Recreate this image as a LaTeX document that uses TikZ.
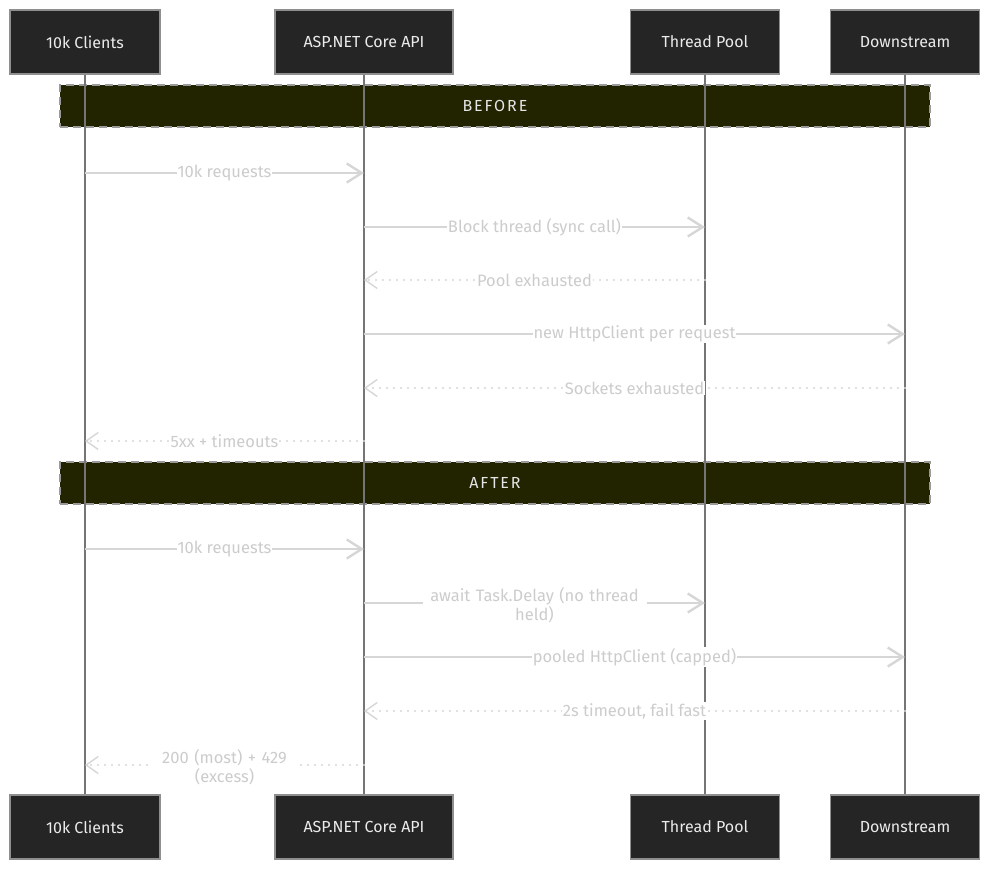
\documentclass[tikz,border=0pt]{standalone}
\usepackage{fontspec}
\setmainfont{Fira Sans}
\usetikzlibrary{arrows.meta}
\definecolor{boxfill}{HTML}{252525}
\definecolor{boxline}{HTML}{8F8F8F}
\definecolor{bandfill}{HTML}{222400}
\definecolor{bandline}{HTML}{9A9A9A}
\definecolor{msgcol}{HTML}{D6D6D6}
\definecolor{lblcol}{HTML}{CCCCCC}
\definecolor{lifecol}{HTML}{757575}
\tikzset{
  actor/.style={draw=boxline, line width=1.8pt, fill=boxfill, text=white!92!black,
    minimum height=64pt, inner sep=0pt, font=\fontsize{16}{18}\selectfont},
  band/.style={draw=bandline, dashed, dash pattern=on 8pt off 5pt, line width=1.6pt, fill=bandfill,
    minimum width=870pt, minimum height=42pt, inner sep=0pt, text=white!90!black,
    font=\fontsize{16}{18}\selectfont\addfontfeatures{LetterSpace=12}},
  life/.style={draw=lifecol, line width=1.1pt},
  call/.style={draw=msgcol, line width=2.6pt, -{Straight Barb[length=15pt,width=19pt,line width=2.4pt]}},
  reply/.style={draw=msgcol, line width=2.4pt, line cap=round, dash pattern=on 0pt off 7pt,
    -{Straight Barb[length=12pt,width=17pt,line width=1.4pt]}},
  lbl/.style={midway, fill=white, text=lblcol, inner sep=1pt, font=\fontsize{16.5}{18}\selectfont},
  lbl2/.style={midway, fill=white, text=lblcol, inner sep=1pt, align=center,
    font=\fontsize{16.5}{19}\selectfont}
}
\begin{document}
\begin{tikzpicture}[x=1pt,y=-1pt]
\useasboundingbox (0,0) rectangle (990,870);
% top actors
\node[actor, minimum width=150pt] (c1t) at (85,42) {10k Clients};
\node[actor, minimum width=178pt] (c2t) at (364,42) {ASP.NET Core API};
\node[actor, minimum width=149pt] (c3t) at (705,42) {Thread Pool};
\node[actor, minimum width=149pt] (c4t) at (905,42) {Downstream};
% bottom actors
\node[actor, minimum width=150pt] (c1b) at (85,827) {10k Clients};
\node[actor, minimum width=178pt] (c2b) at (364,827) {ASP.NET Core API};
\node[actor, minimum width=149pt] (c3b) at (705,827) {Thread Pool};
\node[actor, minimum width=149pt] (c4b) at (905,827) {Downstream};
% bands
\node[band] (before) at (495,106) {BEFORE};
\node[band] (after) at (495,483) {AFTER};
% lifelines
\draw[life] (c1t.south) -- (c1b.north);
\draw[life] (c2t.south) -- (c2b.north);
\draw[life] (c3t.south) -- (c3b.north);
\draw[life] (c4t.south) -- (c4b.north);
% message levels
\coordinate (y1) at (0,173);
\coordinate (y2) at (0,227);
\coordinate (y3) at (0,280);
\coordinate (y4) at (0,334);
\coordinate (y5) at (0,388);
\coordinate (y6) at (0,441);
\coordinate (y7) at (0,549);
\coordinate (y8) at (0,603);
\coordinate (y9) at (0,657);
\coordinate (y10) at (0,711);
\coordinate (y11) at (0,765);
% BEFORE messages
\draw[call] (c1t |- y1) -- node[lbl] {10k requests} (c2t |- y1);
\draw[call] (c2t |- y2) -- node[lbl] {Block thread (sync call)} (c3t |- y2);
\draw[reply] (c3t |- y3) -- node[lbl] {Pool exhausted} (c2t |- y3);
\draw[call] (c2t |- y4) -- node[lbl] {new HttpClient per request} (c4t |- y4);
\draw[reply] (c4t |- y5) -- node[lbl] {Sockets exhausted} (c2t |- y5);
\draw[reply] (c2t |- y6) -- node[lbl] {5xx + timeouts} (c1t |- y6);
% AFTER messages
\draw[call] (c1t |- y7) -- node[lbl] {10k requests} (c2t |- y7);
\draw[call] (c2t |- y8) -- node[lbl2, text width=222pt, yshift=-2pt] {await Task.Delay (no thread\\held)} (c3t |- y8);
\draw[call] (c2t |- y9) -- node[lbl] {pooled HttpClient (capped)} (c4t |- y9);
\draw[reply] (c4t |- y10) -- node[lbl] {2s timeout, fail fast} (c2t |- y10);
\draw[reply] (c2t |- y11) -- node[lbl2, text width=146pt, yshift=-2pt] {200 (most) + 429\\(excess)} (c1t |- y11);
\end{tikzpicture}
\end{document}
